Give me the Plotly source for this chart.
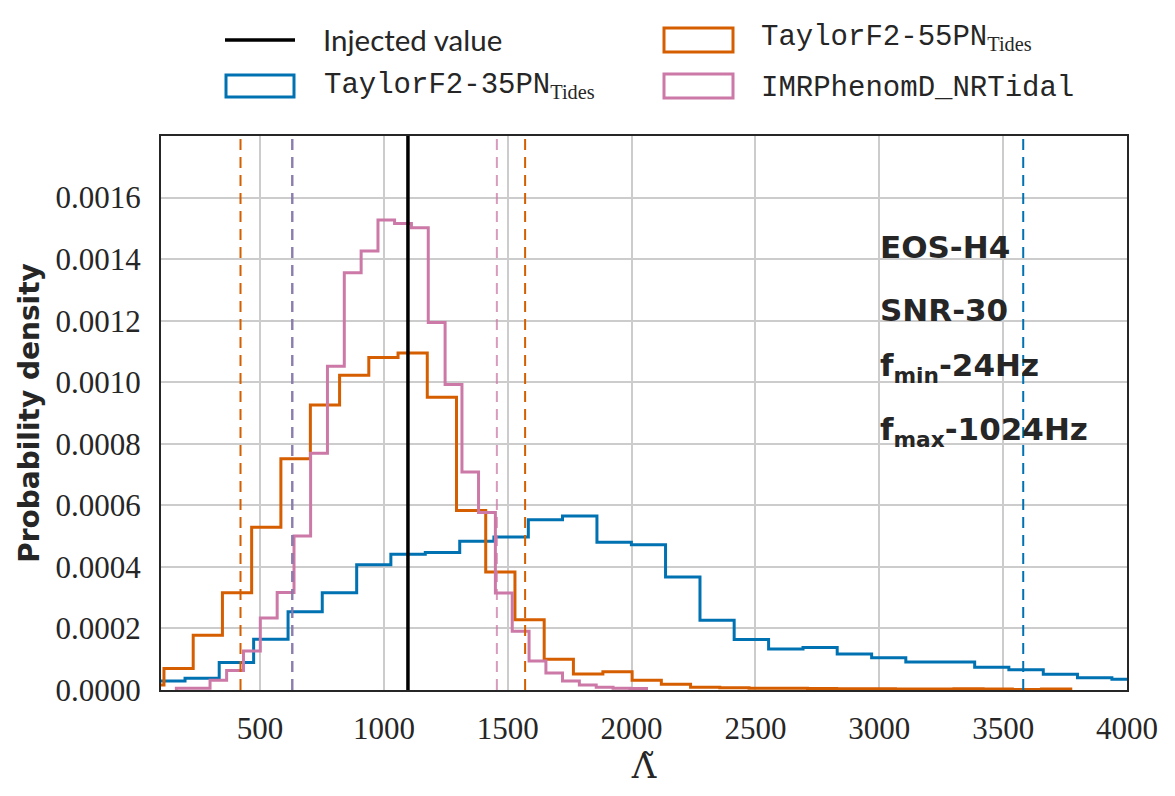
import plotly.graph_objects as go

# ---------------- data ----------------
injected_value = 1097

edges_35pn = [58, 197, 335, 474, 613, 751, 890, 1028, 1167, 1306, 1444, 1583, 1721, 1860,
              1999, 2137, 2276, 2414, 2553, 2692, 2830, 2969, 3107, 3246, 3385, 3523, 3662,
              3800, 3939, 4078]
dens_35pn = [0.000029, 0.000038, 0.000089, 0.000165, 0.000254, 0.000316, 0.000407, 0.000441,
             0.000447, 0.000483, 0.000497, 0.000553, 0.000565, 0.000480, 0.000472, 0.000367,
             0.000227, 0.000164, 0.000133, 0.000138, 0.000117, 0.000105, 0.000091, 0.000091,
             0.000074, 0.000066, 0.000051, 0.000040, 0.000035]

edges_55pn = [-6, 112, 230, 348, 466, 584, 703, 821, 939, 1057, 1175, 1293, 1411, 1529, 1647,
              1765, 1884, 2002, 2120, 2238, 2356, 2474, 2592, 2710, 2828, 2946, 3065, 3183,
              3301, 3419, 3537, 3655, 3773]
dens_55pn = [0.000016, 0.000070, 0.000178, 0.000316, 0.000529, 0.000751, 0.000926, 0.001023,
             0.001080, 0.001095, 0.000951, 0.000583, 0.000383, 0.000228, 0.000100, 0.000052,
             0.000059, 0.000032, 0.000019, 0.000009, 0.000007, 0.000006, 0.000006, 0.000005,
             0.000004, 0.000004, 0.000003, 0.000003, 0.000004, 0.000003, 0.000002, 0.000003]

edges_imr = [162, 230, 298, 365, 433, 501, 569, 637, 704, 772, 840, 908, 976, 1043, 1111,
             1179, 1247, 1315, 1382, 1450, 1518, 1586, 1654, 1721, 1789, 1857, 1925, 1993, 2060]
dens_imr = [0.000006, 0.000006, 0.000032, 0.000063, 0.000127, 0.000234, 0.000317, 0.000500,
            0.000769, 0.001052, 0.001356, 0.001426, 0.001527, 0.001516, 0.001502, 0.001194,
            0.000993, 0.000708, 0.000577, 0.000315, 0.000191, 0.000094, 0.000055, 0.000029,
            0.000016, 0.000009, 0.000006, 0.000005]

# 90% credible bounds
ci_35pn = [630, 3581]
ci_55pn = [421, 1570]
ci_imr = [630, 1456]

x_ticks = [500, 1000, 1500, 2000, 2500, 3000, 3500, 4000]
y_ticks = [0.0, 0.0002, 0.0004, 0.0006, 0.0008, 0.0010, 0.0012, 0.0014, 0.0016]

BLUE = "#0072B2"
ORANGE = "#D55E00"
PINK = "#CC79A7"

# ---------------- figure ----------------
fig = go.Figure()


def step_trace(edges, dens, color):
    xs = [edges[0]] + list(edges)
    ys = [0] + list(dens) + [0]
    return go.Scatter(x=xs, y=ys, mode="lines", line=dict(color=color, width=3, shape="hv"),
                      showlegend=False, hoverinfo="skip")


fig.add_trace(step_trace(edges_35pn, dens_35pn, BLUE))
fig.add_trace(step_trace(edges_55pn, dens_55pn, ORANGE))
fig.add_trace(step_trace(edges_imr, dens_imr, PINK))

for vals, col, op in [(ci_55pn, ORANGE, 1.0), (ci_35pn, BLUE, 1.0), (ci_imr, PINK, 0.75)]:
    for v in vals:
        fig.add_trace(go.Scatter(x=[v, v], y=[0, 0.0018], mode="lines",
                                 line=dict(color=col, width=2, dash="11px,7px"),
                                 opacity=op, showlegend=False, hoverinfo="skip"))

fig.add_trace(go.Scatter(x=[injected_value, injected_value], y=[0, 0.0018], mode="lines",
                         line=dict(color="black", width=3.5), showlegend=False,
                         hoverinfo="skip"))

L, R, T, B = 161, 48, 136, 106
W, H = 1175, 796
pw, ph = W - L - R, H - T - B


def px(xp):
    return (xp - L) / pw


def py(yp):
    return (H - B - yp) / ph


shapes = [
    dict(type="line", xref="paper", yref="paper", x0=px(225), x1=px(295), y0=py(40), y1=py(40),
         line=dict(color="black", width=3.5)),
    dict(type="rect", xref="paper", yref="paper", x0=px(226), x1=px(294), y0=py(97), y1=py(75),
         line=dict(color=BLUE, width=3)),
    dict(type="rect", xref="paper", yref="paper", x0=px(664), x1=px(733), y0=py(52), y1=py(28),
         line=dict(color=ORANGE, width=3)),
    dict(type="rect", xref="paper", yref="paper", x0=px(664), x1=px(733), y0=py(98), y1=py(74),
         line=dict(color=PINK, width=3)),
]

SUB = '<sub><span style="font-family:Liberation Serif">Tides</span></sub>'
legend_items = [
    ("Injected value", 321, 40, "Lato, DejaVu Sans", 29.5),
    ("TaylorF2-35PN" + SUB, 322, 86, "Liberation Mono", 29),
    ("TaylorF2-55PN" + SUB, 759, 38, "Liberation Mono", 29),
    ("IMRPhenomD_NRTidal", 759, 88, "Liberation Mono", 29),
]
annotations = []
for txt, xp, yp, fam, sz in legend_items:
    annotations.append(dict(text=txt, xref="paper", yref="paper", x=px(xp), y=py(yp),
                            xanchor="left", yanchor="middle", showarrow=False,
                            font=dict(family=fam, size=sz, color="#262626")))

info = [("<b>EOS-H4</b>", 247), ("<b>SNR-30</b>", 310),
        ("<b>f<sub>min</sub>-24Hz</b>", 367), ("<b>f<sub>max</sub>-1024Hz</b>", 431)]
for txt, yp in info:
    annotations.append(dict(text=txt, xref="paper", yref="paper", x=px(878), y=py(yp),
                            xanchor="left", yanchor="middle", showarrow=False,
                            font=dict(family="DejaVu Sans", size=31, color="#262626")))

fig.update_layout(
    width=W, height=H,
    margin=dict(l=L, r=R, t=T, b=B),
    paper_bgcolor="white", plot_bgcolor="white",
    shapes=shapes, annotations=annotations,
    showlegend=False,
    xaxis=dict(range=[100, 4000], tickvals=x_ticks, ticktext=[str(v) for v in x_ticks],
               showgrid=True, gridcolor="#cccccc", gridwidth=1.5, zeroline=False,
               showline=True, linecolor="#262626", linewidth=2, mirror=True,
               ticks="", ticklabelstandoff=10,
               tickfont=dict(family="Liberation Serif", size=31, color="#262626"),
               title=dict(text="Λ\u0303", standoff=4,
                          font=dict(family="DejaVu Serif", size=34, color="#262626"))),
    yaxis=dict(range=[0, 0.0018], tickvals=y_ticks, tickformat=".4f",
               showgrid=True, gridcolor="#cccccc", gridwidth=1.5, zeroline=False,
               showline=True, linecolor="#262626", linewidth=2, mirror=True,
               ticks="", ticklabelstandoff=12,
               tickfont=dict(family="Liberation Serif", size=31, color="#262626"),
               title=dict(text="<b>Probability density</b>", standoff=8,
                          font=dict(family="DejaVu Sans", size=28, color="#262626"))),
)

fig.write_html("out.html")
